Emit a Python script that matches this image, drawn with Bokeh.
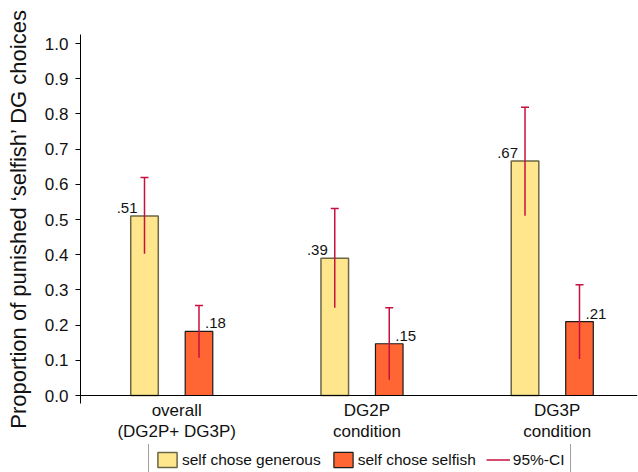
from bokeh.plotting import figure
from bokeh.layouts import column
from bokeh.models import (ColumnDataSource, Range1d, Span, Legend, LegendItem,
                          Whisker, TeeHead, FixedTicker, PrintfTickFormatter)
from bokeh.core.properties import value
from bokeh.embed import file_html
from bokeh.resources import INLINE

# ---- data ----
groups = ["overall\n(DG2P+ DG3P)", "DG2P\ncondition", "DG3P\ncondition"]
generous = [0.51, 0.39, 0.666]
generous_lo = [0.403, 0.249, 0.511]
generous_hi = [0.619, 0.531, 0.819]
selfish = [0.182, 0.147, 0.21]
selfish_lo = [0.107, 0.045, 0.104]
selfish_hi = [0.256, 0.249, 0.315]
generous_labels = [".51", ".39", ".67"]
selfish_labels = [".18", ".15", ".21"]
y_ticks = [0.0, 0.1, 0.2, 0.3, 0.4, 0.5, 0.6, 0.7, 0.8, 0.9, 1.0]
legend_labels = ["self chose generous", "self chose selfish", "95%-CI"]

FONT = "Liberation Sans"
YELLOW = "#FFE68C"
ORANGE = "#FF6633"
CI_COLOR = "#C8103E"
OFFSET = 0.1432
BAR_W = 0.145
LABEL_SHIFT = 0.026

idx = list(range(len(groups)))
gen_src = ColumnDataSource(dict(
    x=[i - OFFSET for i in idx], top=generous, lo=generous_lo, hi=generous_hi,
    lab=generous_labels))
self_src = ColumnDataSource(dict(
    x=[i + OFFSET for i in idx], top=selfish, lo=selfish_lo, hi=selfish_hi,
    lab=selfish_labels))

# ---------------- main chart ----------------
p = figure(width=638, height=444, output_backend="svg", toolbar_location=None,
           x_range=Range1d(-0.4796, 2.448), y_range=Range1d(-0.0227, 1.0256),
           min_border_left=80, min_border_right=1, min_border_top=34,
           min_border_bottom=41)
p.outline_line_color = None
p.grid.visible = False
p.background_fill_color = "white"

BAR_GEN = dict(fill_color=YELLOW, line_color="#6B6645", line_width=1.5)
BAR_SELF = dict(fill_color=ORANGE, line_color="#1a1a1a", line_width=1.2)
CI_LINE = dict(line_color=CI_COLOR, line_width=1.5)

p.vbar(x="x", top="top", width=BAR_W, source=gen_src, **BAR_GEN)
p.vbar(x="x", top="top", width=BAR_W, source=self_src, **BAR_SELF)

# zero line
p.add_layout(Span(location=0, dimension="width", line_color="black",
                  line_width=1.2))

# error bars
for src in (gen_src, self_src):
    p.segment(x0="x", x1="x", y0="lo", y1="hi", source=src, **CI_LINE)
    p.add_layout(Whisker(base="x", lower="lo", upper="hi", source=src,
                         line_alpha=0,
                         upper_head=TeeHead(size=8, **CI_LINE),
                         lower_head=TeeHead(size=8, **CI_LINE)))

# value labels
p.text(x="x", y="top", text="lab", source=gen_src, text_align="right",
       text_baseline="alphabetic", x_offset=-7, y_offset=-8,
       text_font=value(FONT), text_font_size="15px", text_color="#111111")
p.text(x="x", y="top", text="lab", source=self_src, text_align="left",
       text_baseline="alphabetic", x_offset=6, y_offset=-8,
       text_font=value(FONT), text_font_size="15px", text_color="#111111")

# y axis
yax = p.yaxis[0]
yax.ticker = FixedTicker(ticks=y_ticks)
yax.formatter = PrintfTickFormatter(format="%.1f")
yax.minor_tick_line_color = None
yax.major_tick_in = 0
yax.major_tick_out = 5
yax.major_label_standoff = 7
yax.major_label_text_font = FONT
yax.major_label_text_font_size = "17px"
yax.major_label_text_color = "#111111"
yax.axis_line_color = "black"
yax.axis_label = "Proportion of punished \u2018selfish\u2019 DG choices"
yax.axis_label_text_font = FONT
yax.axis_label_text_font_size = "22px"
yax.axis_label_text_font_style = "normal"
yax.axis_label_text_color = "#111111"
yax.axis_label_standoff = 11

# x axis (category labels only)
xax = p.xaxis[0]
xax.ticker = FixedTicker(ticks=[i + LABEL_SHIFT for i in idx])
xax.major_label_overrides = {i + LABEL_SHIFT: g for i, g in zip(idx, groups)}
xax.axis_line_color = None
xax.major_tick_line_color = None
xax.minor_tick_line_color = None
xax.major_tick_out = 0
xax.major_tick_in = 0
xax.major_label_standoff = -3
xax.major_label_text_font = FONT
xax.major_label_text_font_size = "17px"
xax.major_label_text_color = "#111111"
xax.major_label_text_line_height = 1.15

# ---------------- legend strip ----------------
q = figure(width=638, height=28, output_backend="svg", toolbar_location=None,
           x_range=Range1d(0, 1), y_range=Range1d(0, 1),
           x_axis_location=None, y_axis_location=None,
           min_border_left=0, min_border_right=0, min_border_top=0,
           min_border_bottom=0)
q.outline_line_color = None
q.grid.visible = False
q.background_fill_color = "white"
q.border_fill_color = "white"

# legend-only renderers (nothing drawn in the strip itself)
nan = float("nan")
key_src = ColumnDataSource(dict(x=[nan], top=[nan], lo=[nan], hi=[nan]))
lg_gen = q.vbar(x="x", top="top", width=BAR_W, source=key_src, **BAR_GEN)
lg_self = q.vbar(x="x", top="top", width=BAR_W, source=key_src, **BAR_SELF)
lg_ci = q.segment(x0="x", x1="x", y0="lo", y1="hi", source=key_src, **CI_LINE)

legend = Legend(items=[
    LegendItem(label=legend_labels[0], renderers=[lg_gen]),
    LegendItem(label=legend_labels[1], renderers=[lg_self]),
    LegendItem(label=legend_labels[2], renderers=[lg_ci]),
], orientation="horizontal", location=(68, -4))
legend.glyph_width = 24
legend.glyph_height = 19
legend.label_height = 19
legend.padding = 6
legend.spacing = 10
legend.margin = 0
legend.label_standoff = 3
legend.label_text_font = FONT
legend.label_text_font_size = "15.5px"
legend.label_text_color = "#111111"
legend.border_line_color = "#444444"
legend.border_line_width = 1
legend.background_fill_color = "white"
legend.background_fill_alpha = 1
q.add_layout(legend, "center")

layout = column(p, q, spacing=0)
open("out.html", "w").write(file_html(layout, INLINE))
